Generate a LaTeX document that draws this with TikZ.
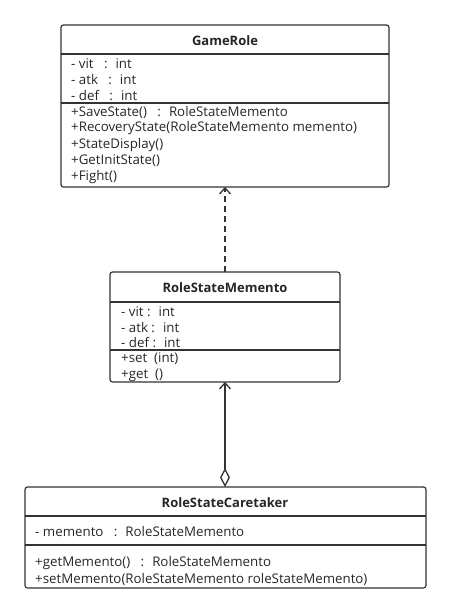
\documentclass[tikz,border=0pt]{standalone}
\usepackage{fontspec}
\setmainfont{Open Sans}
\usetikzlibrary{arrows.meta}
\tikzset{
  box/.style={draw=black!80, line width=1.2pt, rounded corners=2.5pt},
  sep/.style={draw=black!80, line width=1.2pt},
  ttl/.style={font=\fontsize{13}{15}\selectfont\bfseries, text=black!85, inner sep=0pt},
  txt/.style={font=\fontsize{13.3}{15}\selectfont, text=black!85, anchor=west, inner sep=0pt},
  conn/.style={draw=black!80, line width=1.3pt},
}
\begin{document}
\begin{tikzpicture}[x=1pt,y=-1pt]
\useasboundingbox (0,0) rectangle (451,614);
% GameRole
\draw[box] (61,25) rectangle (389,187);
\draw[sep] (61,54) -- (389,54);
\draw[sep] (61,103) -- (389,103);
\node[ttl] (gt) at (225,41) {GameRole};
\node[txt] (g1) at (71,64) {- vit \ \ : \ int};
\node[txt] (g2) at (71,80) {- atk \ \ : \ int};
\node[txt] (g3) at (71,96) {- def \ \ : \ int};
\node[txt] (g4) at (71,112) {+SaveState() \ \ : \ RoleStateMemento};
\node[txt] (g5) at (71,128) {+RecoveryState(RoleStateMemento memento)};
\node[txt] (g6) at (71,145) {+StateDisplay()};
\node[txt] (g7) at (71,161) {+GetInitState()};
\node[txt] (g8) at (71,177) {+Fight()};
\coordinate (gbot) at (225,187);
% RoleStateMemento
\draw[box] (110,272) rectangle (340,382);
\draw[sep] (110,302) -- (340,302);
\draw[sep] (110,350) -- (340,350);
\node[ttl] (mt) at (225,288) {RoleStateMemento};
\node[txt] (m1) at (121,312) {- vit : \ int};
\node[txt] (m2) at (121,328) {- atk : \ int};
\node[txt] (m3) at (121,343) {- def : \ int};
\node[txt] (m4) at (121,359) {+set \ (int)};
\node[txt] (m5) at (121,375) {+get \ ()};
\coordinate (mtop) at (225,272);
\coordinate (mbot) at (225,382);
% RoleStateCaretaker
\draw[box] (25,487) rectangle (426,588);
\draw[sep] (25,516) -- (426,516);
\draw[sep] (25,545) -- (426,545);
\node[ttl] (ct) at (225,503) {RoleStateCaretaker};
\node[txt] (c1) at (35,532) {- memento \ \ : \ RoleStateMemento};
\node[txt] (c2) at (35,563) {+getMemento() \ \ : \ RoleStateMemento};
\node[txt] (c3) at (35,579) {+setMemento(RoleStateMemento roleStateMemento)};
\coordinate (ctop) at (225,487);
% connectors
\draw[conn, dashed, dash pattern=on 6pt off 4pt, -{Straight Barb[length=6pt,width=11pt,line width=1.3pt]}] (mtop) -- (gbot);
\draw[conn, {Diamond[open,length=19pt,width=10pt,line width=1.3pt]}-{Straight Barb[length=6pt,width=11pt,line width=1.3pt]}] (ctop) -- (mbot);
\end{tikzpicture}
\end{document}
